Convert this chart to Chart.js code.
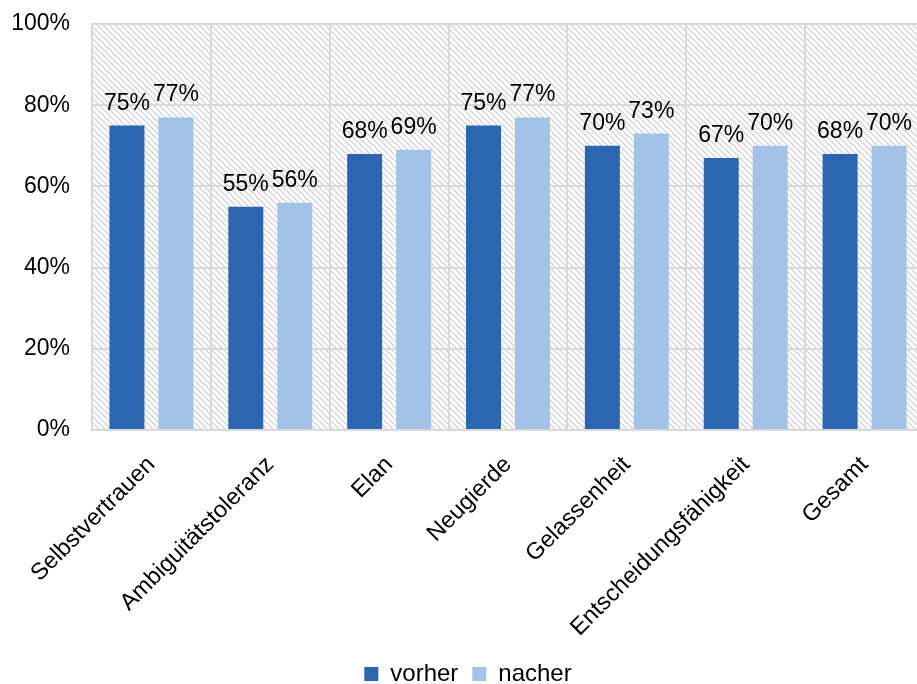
<!DOCTYPE html>
<html>
<head>
<meta charset="utf-8">
<script src="https://cdn.jsdelivr.net/npm/chart.js@4.4.1/dist/chart.umd.min.js"></script>
<style>
  html, body { margin: 0; padding: 0; background: #fff; overflow: hidden; }
  #wrap { width: 925px; height: 684px; position: relative; }
</style>
</head>
<body>
<div id="wrap"><canvas id="chart"></canvas></div>
<script>
var categories = ['Selbstvertrauen', 'Ambiguitätstoleranz', 'Elan', 'Neugierde', 'Gelassenheit', 'Entscheidungsfähigkeit', 'Gesamt'];
var vorher = [75, 55, 68, 75, 70, 67, 68];
var nacher = [77, 56, 69, 77, 73, 70, 70];
var yTicks = [0, 20, 40, 60, 80, 100];

var font = "'Liberation Sans', Arial, sans-serif";

// diagonal hatch for the plot area
function makeHatch() {
    var c = document.createElement('canvas');
    c.width = 6;
    c.height = 6;
    var g = c.getContext('2d');
    g.fillStyle = '#ffffff';
    g.fillRect(0, 0, 6, 6);
    g.strokeStyle = '#d4d4d4';
    g.lineWidth = 1.3;
    g.beginPath();
    g.moveTo(-1, -1); g.lineTo(7, 7);
    g.moveTo(-1, 5); g.lineTo(1, 7);
    g.moveTo(5, -1); g.lineTo(7, 1);
    g.stroke();
    return g.createPattern(c, 'repeat');
}

var hatchBg = {
    id: 'hatchBg',
    beforeDraw: function (chart) {
        var a = chart.chartArea;
        var ctx = chart.ctx;
        ctx.save();
        ctx.fillStyle = makeHatch();
        ctx.fillRect(a.left, a.top, a.right - a.left, a.bottom - a.top);
        ctx.restore();
    }
};

var barLabels = {
    id: 'barLabels',
    afterDatasetsDraw: function (chart) {
        var ctx = chart.ctx;
        ctx.save();
        ctx.font = '23px ' + font;
        ctx.fillStyle = '#000';
        ctx.textAlign = 'center';
        ctx.textBaseline = 'alphabetic';
        chart.data.datasets.forEach(function (ds, i) {
            chart.getDatasetMeta(i).data.forEach(function (bar, j) {
                ctx.fillText(ds.data[j] + '%', bar.x, bar.y - 16);
            });
        });
        ctx.restore();
    }
};

var ctx = document.getElementById('chart');
var myChart = new Chart(ctx, {
    type: 'bar',
    data: {
        labels: categories,
        datasets: [
            { label: 'vorher', data: vorher, backgroundColor: '#2c65b0' },
            { label: 'nacher', data: nacher, backgroundColor: '#a3c2e7' }
        ]
    },
    options: {
        responsive: true,
        maintainAspectRatio: false,
        animation: false,
        layout: { autoPadding: false, padding: { left: 12, right: 1, top: 24, bottom: -12 } },
        datasets: {
            bar: { categoryPercentage: 0.824, barPercentage: 0.714 }
        },
        plugins: {
            tooltip: { enabled: false },
            legend: {
                position: 'bottom',
                labels: {
                    boxWidth: 14,
                    boxHeight: 14,
                    padding: 14,
                    color: '#000',
                    font: { family: font, size: 24 }
                }
            }
        },
        scales: {
            x: {
                grid: { color: '#d9d9d9', lineWidth: 2, drawTicks: false, offset: true },
                border: { color: '#d9d9d9', width: 2 },
                ticks: {
                    color: '#000',
                    font: { family: font, size: 23.5 },
                    maxRotation: 45,
                    minRotation: 45,
                    padding: 21
                },
                afterFit: function (s) {
                    s.height = 218;
                }
            },
            y: {
                min: 0,
                max: 100,
                afterBuildTicks: function (axis) {
                    axis.ticks = yTicks.map(function (v) { return { value: v }; });
                },
                grid: { color: '#d9d9d9', lineWidth: 2, drawTicks: false },
                border: { color: '#d9d9d9', width: 2 },
                ticks: {
                    color: '#000',
                    font: { family: font, size: 23 },
                    padding: 22,
                    callback: function (v) { return v + '%'; }
                },
                afterFit: function (s) {
                    s.width = 80;
                    s.paddingTop = 0;
                    s.paddingBottom = 0;
                }
            }
        }
    },
    plugins: [hatchBg, barLabels]
});
</script>
</body>
</html>
